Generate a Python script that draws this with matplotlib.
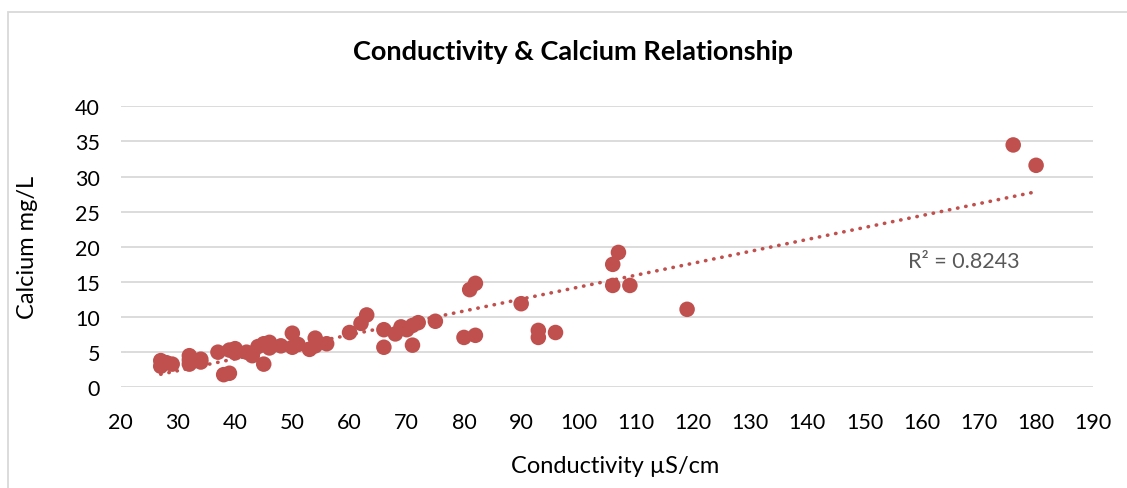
import matplotlib
matplotlib.use("Agg")
import matplotlib.pyplot as plt
import numpy as np
from matplotlib.patches import Rectangle

conductivity = [27, 27, 28, 29, 32, 32, 32, 34, 34, 37, 38, 39, 39, 40, 40, 42, 43, 44, 45, 45,
                46, 46, 48, 50, 50, 51, 53, 54, 54, 56, 60, 62, 63, 66, 66, 68, 69, 70, 71, 71,
                72, 75, 80, 81, 82, 82, 90, 93, 93, 96, 106, 107, 106, 109, 119, 176, 180]
calcium = [3.8, 3.0, 3.5, 3.3, 4.5, 3.3, 3.9, 4.0, 3.6, 5.0, 1.8, 2.0, 5.3, 5.5, 4.9, 5.0, 4.5, 5.8, 6.2, 3.3,
           6.4, 5.6, 5.9, 7.7, 5.7, 6.1, 5.4, 7.0, 5.9, 6.2, 7.8, 9.1, 10.3, 8.2, 5.7, 7.6, 8.6, 8.2, 6.0, 8.8,
           9.2, 9.4, 7.1, 13.9, 14.8, 7.4, 11.9, 8.1, 7.1, 7.8, 17.5, 19.2, 14.5, 14.5, 11.1, 34.5, 31.6]
x_ticks = list(range(20, 191, 10))
y_ticks = list(range(0, 41, 5))
r2_label = "R² = 0.8243"
title = "Conductivity & Calcium Relationship"
xlabel = "Conductivity µS/cm"
ylabel = "Calcium mg/L"

plt.rcParams['font.family'] = ['Lato', 'DejaVu Sans']
red = "#C0504D"
grid = "#D9D9D9"

W, H = 1127, 489
fig = plt.figure(figsize=(W/100, H/100), dpi=100)
fig.patches.append(Rectangle((8/W, -0.1), 1.2, (H-13)/H + 0.1, transform=fig.transFigure,
                             fill=False, edgecolor=grid, linewidth=1.3))
ax = fig.add_axes([120.7/W, (H-388.3)/H, (1093.3-120.7)/W, (388.3-107.3)/H])

x = np.array(conductivity, dtype=float)
y = np.array(calcium, dtype=float)
m, b = np.polyfit(x, y, 1)
xl = np.array([x.min(), x.max()])
ax.plot(xl, m*xl + b, color=red, linewidth=2.6, linestyle=(0, (0.1, 2.2)),
        dash_capstyle='round', zorder=3)
ax.scatter(x, y, s=125, color=red, edgecolors='none', zorder=2)

ax.set_xlim(20, 190)
ax.set_ylim(0, 40)
ax.set_xticks(x_ticks)
ax.set_yticks(y_ticks)
ax.tick_params(axis='both', length=0, labelsize=15.5, colors='black')
ax.tick_params(axis='y', pad=15)
ax.tick_params(axis='x', pad=18)
ax.grid(axis='y', color=grid, linewidth=1.3)
ax.set_axisbelow(True)
for s in ax.spines.values():
    s.set_visible(False)

ax.text(157.6, 18.0, r2_label, color="#595959", fontsize=15.5, ha='left', va='center')
fig.text(615/W, 1 - 467/H, xlabel, fontsize=17, ha='center', va='center')
fig.text(27/W, 1 - 247/H, ylabel, fontsize=17, ha='center', va='center', rotation=90)
fig.text(573/W, 1 - 52/H, title, fontsize=19.5, fontweight='bold', ha='center', va='center')

fig.savefig("out.png", dpi=100)
